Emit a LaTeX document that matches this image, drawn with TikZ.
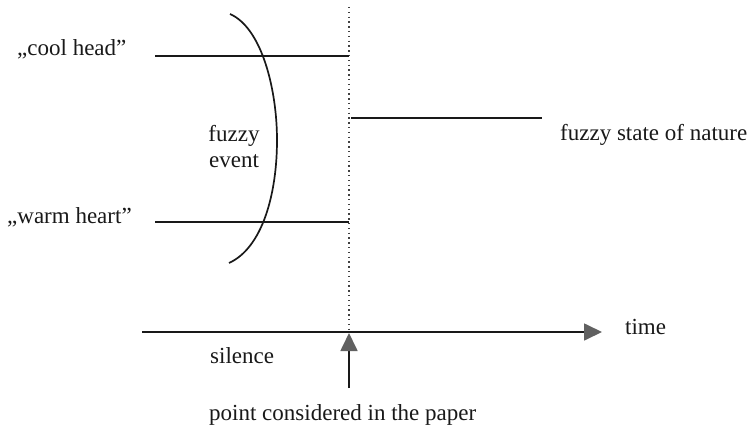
\documentclass[tikz,border=0pt]{standalone}
\usepackage{fontspec}
\setmainfont{Liberation Serif}
\usetikzlibrary{arrows.meta}
\begin{document}
\begin{tikzpicture}[x=1pt,y=-1pt,
  lbl/.style={inner sep=0pt, font=\fontsize{23}{26}\selectfont, text=black!90},
  ln/.style={line width=1.7pt, draw=black!90},
  dotline/.style={line width=1.5pt, draw=black!75, dash pattern=on 1.4pt off 3.4pt},
  tip/.style={-{Triangle[length=18pt,width=17pt]}, arrows={[fill=black!62,color=black!62]}}
]
\useasboundingbox[fill=white] (0,0) rectangle (751,425);

% coordinates
\coordinate (dtop) at (349,7);
\coordinate (chS) at (155,56);
\coordinate (chE) at (349,56);
\coordinate (whS) at (155,222);
\coordinate (whE) at (349,222);
\coordinate (fsS) at (351,118);
\coordinate (fsE) at (542,118);
\coordinate (axS) at (142,332);
\coordinate (axM) at (349,332);
\coordinate (axE) at (602,332);
\coordinate (upB) at (349,388);
\coordinate (upT) at (349,333);

% labels
\node[lbl, anchor=base west] (cool) at (17,56) {„cool head”};
\node[lbl, anchor=base west] (warm) at (7,223) {„warm heart”};
\node[lbl, anchor=north, align=center] (fe) at (234,125) {fuzzy\\event};
\node[lbl, anchor=base west] (fsn) at (560,140) {fuzzy state of nature};
\node[lbl, anchor=base west] (time) at (625,334) {time};
\node[lbl, anchor=base west] (sil) at (210,363) {silence};
\node[lbl, anchor=base west] (pt) at (209,420) {point considered in the paper};

% lines
\draw[dotline] (dtop) -- (axM);
\draw[ln] (chS) -- (chE);
\draw[ln] (whS) -- (whE);
\draw[ln] (fsS) -- (fsE);
\draw[ln, tip] (axS) -- (axE);
\draw[ln, tip] (upB) -- (upT);

% fuzzy event bracket
\draw[ln] (230,14) .. controls (262,28) and (277,90) .. (277,140)
          .. controls (277,195) and (262,248) .. (229,263);
\end{tikzpicture}
\end{document}
